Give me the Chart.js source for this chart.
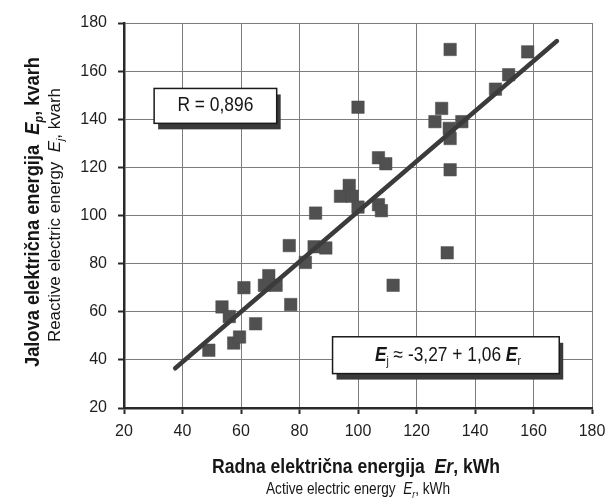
<!DOCTYPE html>
<html>
<head>
<meta charset="utf-8">
<script src="https://cdn.jsdelivr.net/npm/chart.js@4.4.1/dist/chart.umd.min.js"></script>
<style>
  html, body { margin: 0; padding: 0; background: #ffffff; }
  #wrap { width: 616px; height: 504px; }
</style>
</head>
<body>
<div id="wrap"><canvas id="c" width="616" height="504"></canvas></div>
<script>
// ---- data ----
const activeEnergy = [49, 53.5, 56, 57.5, 59.5, 61, 65, 68, 69.5, 72, 76.5, 77, 82, 85, 85.5, 89,
  94, 97, 98, 100, 100, 107, 109.5, 107, 108, 112,
  126.3, 128.6, 131.2, 131.5, 135.5, 131.5, 131.5, 130.5, 147, 151.5, 158];
const reactiveEnergy = [44, 62, 58, 47, 49.5, 70, 55, 71, 75, 71, 87.5, 63, 80.5, 87, 101, 86.5,
  108, 112.5, 108, 103.5, 145, 124, 121.5, 104.5, 102, 71,
  139, 144.5, 136.2, 132, 139, 169, 119, 84.5, 152.5, 158.5, 168];
const trendX = [37.5, 168];
const trendY = [36.5, 172.5];
const xTicks = [20, 40, 60, 80, 100, 120, 140, 160, 180];
const yTicks = [20, 40, 60, 80, 100, 120, 140, 160, 180];

const rLabel = 'R = 0,896';
const eqParts = ['E', 'j', ' ≈ -3,27 + 1,06 ', 'E', 'r'];
const xTitleMain = ['Radna električna energija  ', 'E', 'r', ', kWh'];
const xTitleSub = ['Active electric energy  ', 'E', 'r', ', kWh'];
const yTitleMain = ['Jalova električna energija  ', 'E', 'p', ', kvarh'];
const yTitleSub = ['Reactive electric energy  ', 'E', 'j', ', kvarh'];

const points = activeEnergy.map((x, i) => ({ x: x, y: reactiveEnergy[i] }));
const trend = trendX.map((x, i) => ({ x: x, y: trendY[i] }));

const FONT = '"Liberation Sans", Arial, sans-serif';

function drawRich(ctx, segs, cx, cy, target, angle, size) {
  const fontFor = s => (s.i ? 'italic ' : '') + (s.w || 'normal') + ' ' +
    (s.sub ? Math.round(size * 0.62) : size) + 'px ' + FONT;
  ctx.save();
  ctx.translate(cx, cy);
  ctx.rotate(angle);
  let total = 0;
  const widths = segs.map(s => { ctx.font = fontFor(s); const w = ctx.measureText(s.t).width; total += w; return w; });
  ctx.scale(target / total, 1);
  let x = -total / 2;
  ctx.textBaseline = 'middle';
  ctx.textAlign = 'left';
  ctx.fillStyle = '#161616';
  segs.forEach((s, k) => {
    ctx.font = fontFor(s);
    ctx.fillText(s.t, x, s.sub ? size * 0.32 : 0);
    x += widths[k];
  });
  ctx.restore();
}

function titleSegs(parts, w, subIdx) {
  return parts.map((t, k) => ({ t: t, w: w, i: k === 1 || k === 2, sub: k === subIdx }));
}

const boxes = [
  { x0: 30.3, x1: 72.2, y0: 152.8, y1: 138.3, kind: 'r' },
  { x0: 91.3, x1: 168.8, y0: 49.6, y1: 34.3, kind: 'eq' }
];

const decorPlugin = {
  id: 'decor',
  afterDatasetsDraw(chart) {
    const ctx = chart.ctx;
    const xs = chart.scales.x, ys = chart.scales.y;
    boxes.forEach(b => {
      const l = xs.getPixelForValue(b.x0), r = xs.getPixelForValue(b.x1);
      const t = ys.getPixelForValue(b.y0), bt = ys.getPixelForValue(b.y1);
      ctx.save();
      ctx.fillStyle = '#3a3a3a';
      ctx.fillRect(l + 4, t + 6, r - l, bt - t);
      ctx.fillStyle = '#ffffff';
      ctx.fillRect(l, t, r - l, bt - t);
      ctx.strokeStyle = '#1a1a1a';
      ctx.lineWidth = 1.5;
      ctx.strokeRect(l, t, r - l, bt - t);
      ctx.restore();
      const cx = (l + r) / 2, cy = (t + bt) / 2;
      if (b.kind === 'r') {
        drawRich(ctx, [{ t: rLabel }], cx, cy, 76, 0, 20);
      } else {
        const segs = eqParts.map((t, k) => ({ t: t, w: (k === 0 || k === 3) ? 'bold' : 'normal', i: k === 0 || k === 3, sub: k === 1 || k === 4 }));
        drawRich(ctx, segs, cx + 2, cy, 146, 0, 20);
      }
    });
  },
  afterDraw(chart) {
    const ctx = chart.ctx;
    const a = chart.chartArea;
    const mx = (a.left + a.right) / 2;
    drawRich(ctx, [{ t: xTitleMain[0], w: 'bold' }, { t: 'E', w: 'bold', i: true }, { t: 'r', w: 'bold', i: true }, { t: xTitleMain[3], w: 'bold' }],
      mx - 2, a.bottom + 59, 288, 0, 20);
    drawRich(ctx, titleSegs(xTitleSub, 'normal', 2), mx, a.bottom + 82, 184, 0, 16);
    drawRich(ctx, titleSegs(yTitleMain, 'bold', 2), a.left - 91, 212, 310, -Math.PI / 2, 20);
    drawRich(ctx, titleSegs(yTitleSub, 'normal', 2), a.left - 68, 215, 254, -Math.PI / 2, 16);
  }
};

new Chart(document.getElementById('c'), {
  data: {
    datasets: [
      {
        type: 'line',
        data: trend,
        borderColor: '#3b3b3b',
        borderWidth: 4.5,
        borderCapStyle: 'round',
        pointRadius: 0,
        fill: false
      },
      {
        type: 'scatter',
        data: points,
        pointStyle: 'rect',
        pointRadius: 8.8,
        pointHoverRadius: 8.8,
        backgroundColor: '#505050',
        borderColor: '#4a4a4a',
        borderWidth: 0.5
      }
    ]
  },
  options: {
    responsive: false,
    animation: false,
    events: [],
    layout: { padding: { top: 23, right: 24, left: 0, bottom: 0 } },
    plugins: { legend: { display: false }, tooltip: { enabled: false } },
    scales: {
      x: {
        type: 'linear',
        min: 20, max: 180,
        afterBuildTicks: s => { s.ticks = xTicks.map(v => ({ value: v })); },
        afterFit: s => { s.height = 96; },
        grid: { color: '#7c7c7c', lineWidth: 1, tickLength: 6, tickColor: '#2a2a2a', tickWidth: 2 },
        border: { color: '#2a2a2a', width: 2.5 },
        ticks: { padding: 8, color: '#1e1e1e', font: { family: '"Liberation Sans Narrow", "Liberation Sans", Arial, sans-serif', size: 16 } },
        title: { display: false }
      },
      y: {
        type: 'linear',
        min: 20, max: 180,
        afterBuildTicks: s => { s.ticks = yTicks.map(v => ({ value: v })); },
        afterFit: s => { s.width = 124; },
        grid: { color: '#7c7c7c', lineWidth: 1, tickLength: 6, tickColor: '#2a2a2a', tickWidth: 2 },
        border: { color: '#2a2a2a', width: 2.5 },
        ticks: { padding: 11, color: '#1e1e1e', font: { family: '"Liberation Sans Narrow", "Liberation Sans", Arial, sans-serif', size: 16 } },
        title: { display: false }
      }
    }
  },
  plugins: [decorPlugin]
});
</script>
</body>
</html>
